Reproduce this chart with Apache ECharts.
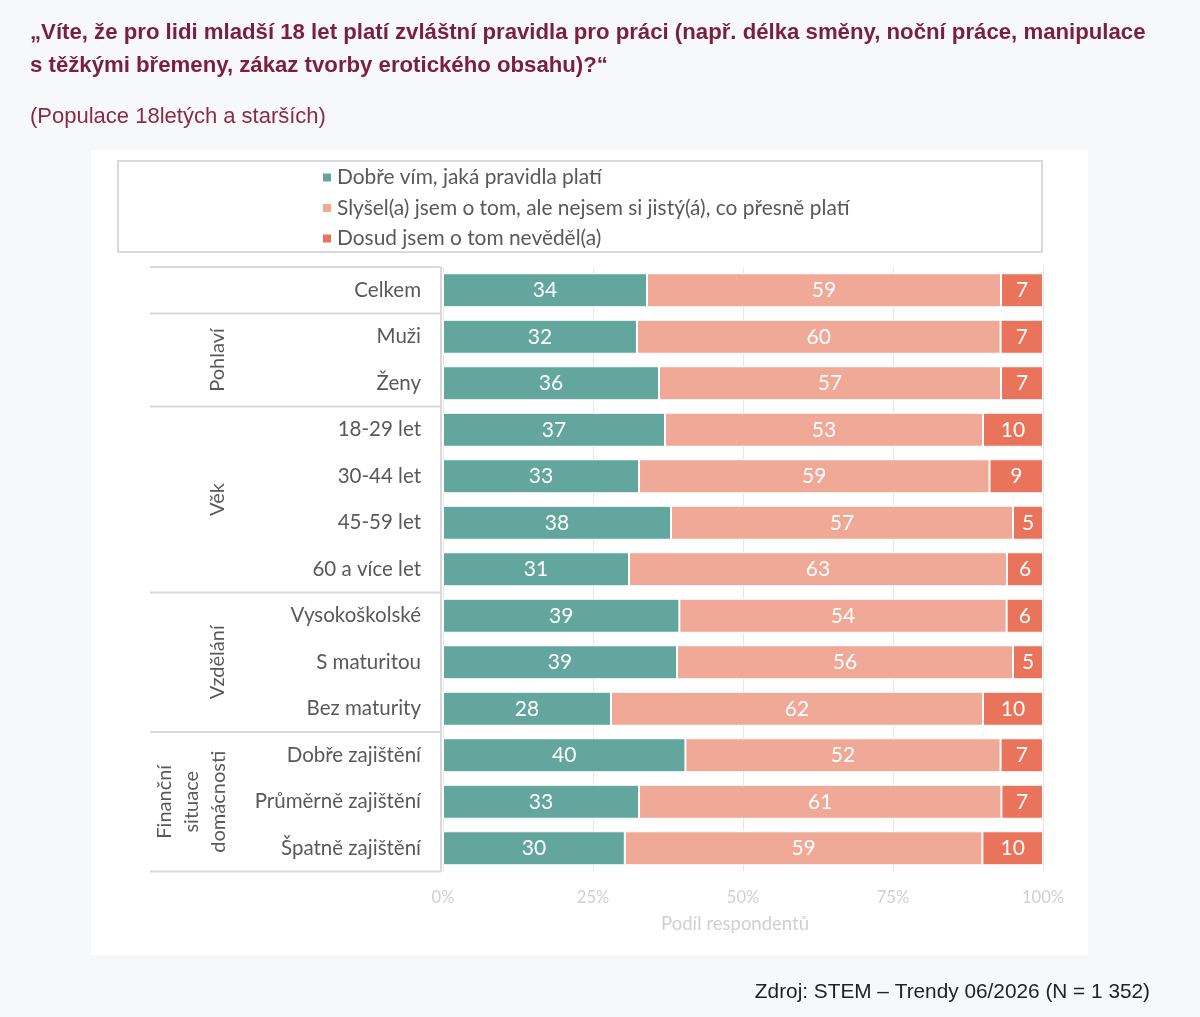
<!DOCTYPE html>
<html>
<head>
<meta charset="utf-8">
<script src="https://cdn.jsdelivr.net/npm/echarts@6/dist/echarts.min.js"></script>
<style>
  html, body { margin: 0; padding: 0; background: #f7f8fa; }
  #main { width: 1200px; height: 1017px; }
</style>
</head>
<body>
<div id="main"></div>
<script>
// kategorie (shora dolů)
var categories = ['Celkem', 'Muži', 'Ženy', '18-29 let', '30-44 let', '45-59 let', '60 a více let',
  'Vysokoškolské', 'S maturitou', 'Bez maturity', 'Dobře zajištění', 'Průměrně zajištění', 'Špatně zajištění'];
var seriesNames = ['Dobře vím, jaká pravidla platí',
  'Slyšel(a) jsem o tom, ale nejsem si jistý(á), co přesně platí',
  'Dosud jsem o tom nevěděl(a)'];
var dobre   = [34, 32, 36, 37, 33, 38, 31, 39, 39, 28, 40, 33, 30];
var slysel  = [59, 60, 57, 53, 59, 57, 63, 54, 56, 62, 52, 61, 59];
var nevedel = [7, 7, 7, 10, 9, 5, 6, 6, 5, 10, 7, 7, 10];
var xTicks = ['0%', '25%', '50%', '75%', '100%'];
// skupiny: název a rozsah řádků
var groupNames = ['', 'Pohlaví', 'Věk', 'Vzdělání', 'Finanční\nsituace\ndomácnosti'];
var groupFrom  = [0, 1, 3, 7, 10];
var groupTo    = [0, 2, 6, 9, 12];

var colors = ['#63a69d', '#f0a997', '#e9735b'];
var font = 'Lato';
var headFont = 'Liberation Sans';

// geometrie grafu
var gLeft = 443, gWidth = 600, gTop = 267, rowH = 46.5;
var gHeight = rowH * categories.length;

// podíly tak, aby každý pruh končil na 100 %
var rows = [dobre, slysel, nevedel];
function shares(arr) {
  return arr.map(function (v, i) {
    var sum = dobre[i] + slysel[i] + nevedel[i];
    return { value: v / sum * 100, shown: v };
  });
}

var myChart = echarts.init(document.getElementById('main'));

var graphics = [];
// bílý panel
graphics.push({ type: 'rect', z: -10, shape: { x: 91, y: 150, width: 997, height: 805 }, style: { fill: '#ffffff' } });
// rámeček legendy
graphics.push({ type: 'rect', shape: { x: 118, y: 161, width: 924, height: 91 }, style: { fill: 'none', stroke: '#d9d9d9', lineWidth: 2 } });
// čáry tabulky vlevo
var bounds = [0];
groupTo.forEach(function (t) { bounds.push(t + 1); });
bounds.forEach(function (b) {
  var y = gTop + b * rowH;
  graphics.push({ type: 'line', shape: { x1: 150, y1: y, x2: 441, y2: y }, style: { stroke: '#d9d9d9', lineWidth: 2 } });
});
graphics.push({ type: 'line', shape: { x1: 441, y1: gTop, x2: 441, y2: gTop + gHeight }, style: { stroke: '#d9d9d9', lineWidth: 2 } });
// názvy skupin (svisle)
groupNames.forEach(function (name, i) {
  if (!name) return;
  var cy = gTop + (groupFrom[i] + groupTo[i] + 1) / 2 * rowH;
  var nLines = name.split('\n').length;
  graphics.push({
    type: 'text',
    x: nLines > 1 ? 192 : 218,
    y: cy,
    rotation: Math.PI / 2,
    style: {
      text: name, fill: '#595959', font: '20px ' + font,
      align: 'center', verticalAlign: 'middle', lineHeight: 27
    }
  });
});

function makeSeries(idx) {
  return {
    name: seriesNames[idx],
    type: 'bar',
    stack: 'total',
    barWidth: 34,
    data: shares(rows[idx]),
    itemStyle: { color: colors[idx], borderColor: '#ffffff', borderWidth: 1 },
    label: {
      show: true,
      position: 'inside',
      color: '#ffffff',
      fontFamily: font,
      fontSize: 21,
      formatter: function (p) { return p.data.shown; }
    },
    emphasis: { disabled: true }
  };
}

myChart.setOption({
  backgroundColor: '#f7f8fa',
  animation: false,
  title: [
    {
      text: '„Víte, že pro lidi mladší 18 let platí zvláštní pravidla pro práci (např. délka směny, noční práce, manipulace\ns těžkými břemeny, zákaz tvorby erotického obsahu)?“',
      left: 30, top: 16,
      padding: 0,
      textStyle: { fontFamily: headFont, fontSize: 22.2, fontWeight: 'bold', color: '#7b1f3c', lineHeight: 33 }
    },
    {
      text: '(Populace 18letých a starších)',
      left: 30, top: 106,
      padding: 0,
      textStyle: { fontFamily: headFont, fontSize: 22, fontWeight: 'normal', color: '#8a2b43' }
    },
    {
      text: 'Zdroj: STEM – Trendy 06/2026 (N = 1 352)',
      right: 50, top: 982,
      padding: 0,
      textStyle: { fontFamily: headFont, fontSize: 20.8, fontWeight: 'normal', color: '#222222' }
    }
  ],
  legend: {
    orient: 'vertical',
    left: 321, top: 167,
    padding: 0,
    itemWidth: 10, itemHeight: 10,
    itemGap: 9.5,
    icon: 'rect',
    selectedMode: false,
    textStyle: { fontFamily: font, fontSize: 20.9, color: '#595959', lineHeight: 21 },
    data: seriesNames
  },
  grid: { left: gLeft, top: gTop, width: gWidth, height: gHeight, containLabel: false },
  xAxis: {
    type: 'value',
    min: 0, max: 100, interval: 25,
    name: 'Podíl respondentů',
    nameLocation: 'middle',
    nameGap: 43,
    nameTextStyle: { fontFamily: font, fontSize: 18.5, color: '#d0d0d0', padding: [0, 16, 0, 0] },
    axisLine: { show: false },
    axisTick: { show: false },
    axisLabel: {
      fontFamily: font, fontSize: 16.5, color: '#d0d0d0', margin: 18,
      formatter: function (v) { return xTicks[v / 25]; }
    },
    splitLine: { show: true, lineStyle: { color: '#e6e6e6', width: 1 } }
  },
  yAxis: {
    type: 'category',
    inverse: true,
    data: categories,
    axisLine: { show: false },
    axisTick: { show: false },
    axisLabel: { fontFamily: font, fontSize: 20.5, color: '#595959', margin: 22 }
  },
  graphic: graphics,
  series: [makeSeries(0), makeSeries(1), makeSeries(2)]
});
</script>
</body>
</html>
